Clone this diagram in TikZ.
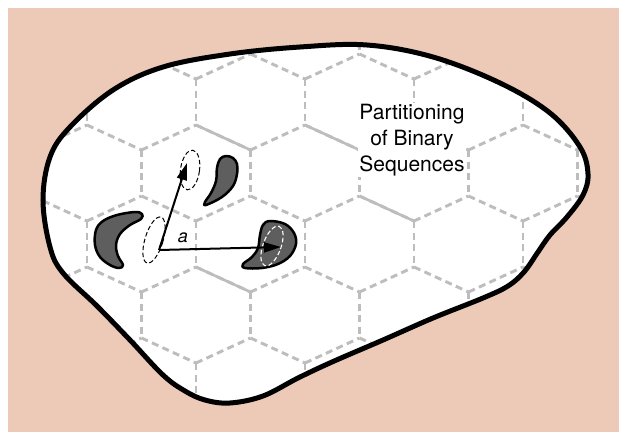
\documentclass[tikz,border=0pt]{standalone}
\usepackage{fontspec}
\setmainfont{TeX Gyre Heros}
\usetikzlibrary{arrows.meta}
\definecolor{bgpink}{HTML}{EDC9B8}
\definecolor{gridgray}{HTML}{BDBDBD}
\definecolor{blobgray}{HTML}{5E5E5E}
\begin{document}
\begin{tikzpicture}[x=1pt,y=-1pt,
  gridline/.style={draw=gridgray, line width=2.9pt, dash pattern=on 7pt off 4.5pt},
  gridsolid/.style={draw=gridgray, line width=2.6pt},
  blobshape/.style={fill=blobgray, draw=black, line width=2.5pt, line join=round},
  guess/.style={draw=black, line width=1pt, dash pattern=on 4.5pt off 2.5pt},
  whiteguess/.style={draw=white, line width=1.1pt, dash pattern=on 4.5pt off 2.5pt},
  vec/.style={draw=black, line width=2pt, -{Triangle[length=17pt,width=10pt]}},
  bigtext/.style={font=\fontsize{21}{26}\selectfont, align=center, fill=white, inner sep=1pt},
  lbl/.style={font=\itshape\fontsize{18}{18}\selectfont, inner sep=0pt}]
\useasboundingbox (0,0) rectangle (619,432);
\fill[bgpink] (8,8) rectangle (619,432);
\path[save path=\blobp] plot[smooth cycle, tension=0.6] coordinates {
  (300,47) (367,45) (433,57) (500,83) (550,113) (580,147) (588,174) (583,195)
  (567,217) (550,235) (538,252) (524,272) (508,286) (483,298) (433,318)
  (383,340) (332,362) (298,378) (263,396) (230,403) (205,400) (185,391)
  (163,375) (130,340) (97,306) (63,273) (50,247) (43,200) (50,157) (70,127)
  (113,90) (163,67) (230,54)};
\fill[white, use path=\blobp];
\begin{scope}
  \clip[use path=\blobp];
  \foreach \r in {-1,...,5} {
    \pgfmathsetmacro\yt{79+71*\r}
    \pgfmathsetmacro\xo{ifthenelse(mod(\r+2,2)==0, -22, 32.5)}
    \foreach \k in {-1,...,6} {
      \draw[gridline] ({\xo+109*\k},\yt) -- ++(0,46);
    }
    \foreach \j in {-2,...,13} {
      \pgfmathsetmacro\ya{ifthenelse(mod(\j+4,2)==0, \yt, \yt-25)}
      \pgfmathsetmacro\yb{ifthenelse(mod(\j+4,2)==0, \yt-25, \yt)}
      \draw[gridline] ({\xo+54.5*\j},\ya) -- ({\xo+54.5*(\j+1)},\yb);
    }
  }
  \draw[gridsolid] (196,125) -- (250.5,150);
  \draw[gridsolid] (305,125) -- (359.5,150);
  \draw[gridsolid] (359.5,196) -- (414,221);
  \draw[gridsolid] (196,267) -- (250.5,292);
\end{scope}
\draw[line width=5pt, use path=\blobp];
% dashed guesses
\draw[guess, rotate around={-8:(190,170)}] (190,170) ellipse [x radius=9.5pt, y radius=20pt];
\draw[guess, rotate around={-17:(154,240)}] (154,240) ellipse [x radius=9pt, y radius=24pt];
% shapes
\draw[blobshape] plot[smooth cycle, tension=0.6] coordinates {
  (226,156) (233,158) (237,164) (237,174) (233,186) (222,197) (206,205)
  (205,202) (211,193) (216,181) (217,168) (220,159)};
\draw[blobshape] plot[smooth cycle, tension=0.6] coordinates {
  (96,230) (103,221) (117,215) (135,212) (142,214) (141,219) (130,225)
  (120,234) (116,245) (118,256) (123,265) (119,268) (110,265) (100,257) (95,245)};
\draw[blobshape] plot[smooth cycle, tension=0.6] coordinates {
  (270,221) (285,224) (294,233) (296,244) (290,256) (278,264) (262,268)
  (245,268) (243,264) (252,257) (258,248) (260,235) (263,225)};
\draw[whiteguess, rotate around={-20:(272,246)}] (272,246) ellipse [x radius=9pt, y radius=21pt];
% vectors
\coordinate (o) at (159,250);
\coordinate (t1) at (187,163);
\coordinate (t2) at (281,247);
\draw[vec] (o) -- (t1);
\draw[vec] (o) -- (t2);
\node[lbl] (alab) at (183,238) {a};
\node[bigtext] (title) at (412,140) {Partitioning\\of Binary\\Sequences};
\end{tikzpicture}
\end{document}
